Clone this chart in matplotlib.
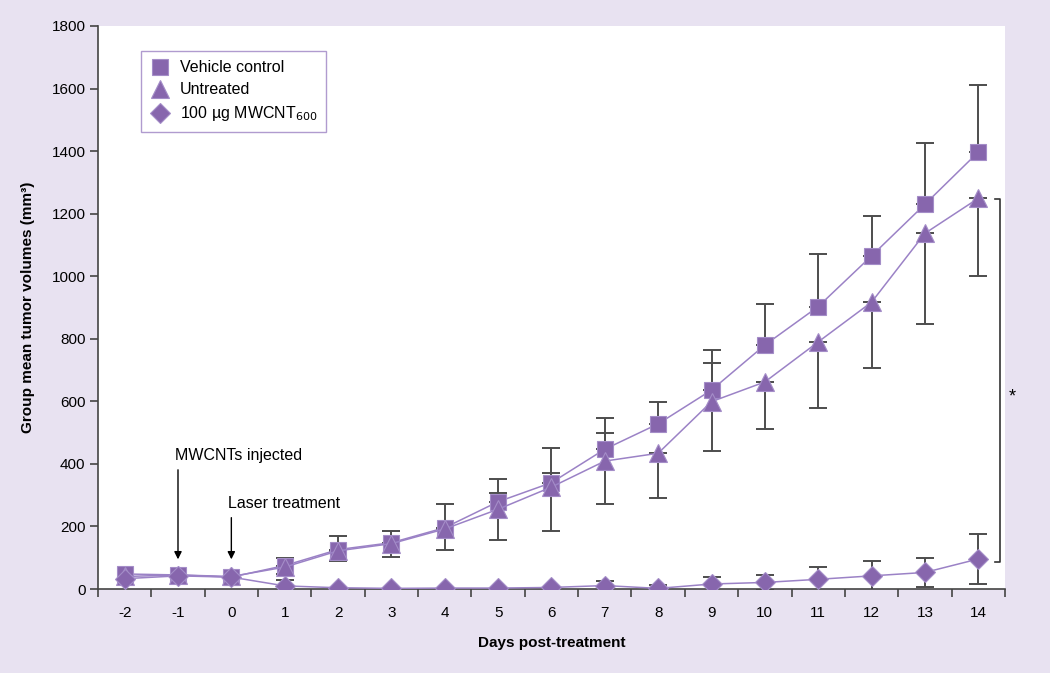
import numpy as np
import matplotlib
matplotlib.use("Agg")
import matplotlib.pyplot as plt

plt.rcParams['font.family'] = ['Liberation Sans', 'DejaVu Sans']
plt.rcParams['axes.unicode_minus'] = False

days = np.arange(-2, 15)
# group means (mm^3)
vehicle = [48, 45, 38, 75, 126, 148, 196, 279, 340, 447, 528, 636, 780, 903, 1065, 1230, 1397]
untreated = [40, 45, 40, 70, 122, 145, 192, 255, 326, 409, 434, 599, 662, 790, 917, 1137, 1249]
mwcnt = [33, 42, 38, 10, 4, 2, 3, 3, 5, 11, 2, 16, 21, 31, 42, 53, 96]

# error bar ends as drawn (None = not shown)
vehicle_upper = [None, None, None, 100, 170, 187, 272, 351, 451, 548, 599, 763, 911, 1071, 1192, 1427, 1612]
untreated_lower = [None, None, None, 48, 90, 101, 125, 157, 187, 273, 292, 441, 512, 578, 705, 848, 1002]
untreated_upper = [None, None, None, None, None, None, None, 306, 372, 498, None, 722, None, None, None, None, None]
mwcnt_err = [0, 0, 0, 20, 0, 0, 0, 0, 0, 16, 11, 22, 24, 40, 48, 46, 81]

purple = "#8766ad"
edge = "#a48dc8"
linec = "#9b82c6"
errc = "#4d4d4d"

fig = plt.figure(figsize=(10.5, 6.73), dpi=100, facecolor="#e8e2f1")
ax = fig.add_axes([0.0933, 0.1248, 0.8638, 0.8366])
ax.set_facecolor("white")


def draw_err(x, y, lo, hi):
    x = np.array(x, float)
    y = np.array(y, float)
    lo = np.array(lo, float)
    hi = np.array(hi, float)
    m = (lo > 0) | (hi > 0)
    ax.errorbar(x[m], y[m], yerr=[lo[m], hi[m]], fmt="none", ecolor=errc,
                elinewidth=1.4, capsize=6.5, capthick=1.4, zorder=2)


def bound(vals, means, sign):
    return [0 if v is None else sign * (v - mu) for v, mu in zip(vals, means)]


draw_err(days, vehicle, [0] * len(days), bound(vehicle_upper, vehicle, 1))
draw_err(days, untreated, bound(untreated_lower, untreated, -1), bound(untreated_upper, untreated, 1))
draw_err(days, mwcnt, mwcnt_err, mwcnt_err)

ax.plot(days, vehicle, color=linec, lw=1.1, marker="s", ms=11, mfc=purple, mec=edge, mew=0.8,
        label="Vehicle control", zorder=3)
ax.plot(days, untreated, color=linec, lw=1.1, marker="^", ms=13, mfc=purple, mec=edge, mew=0.8,
        label="Untreated", zorder=3)
ax.plot(days, mwcnt, color=linec, lw=1.1, marker="D", ms=10, mfc=purple, mec=edge, mew=0.8,
        label="100 µg MWCNT$_{600}$", zorder=3)

ax.set_xlim(-2.5, 14.5)
ax.set_ylim(0, 1800)
ax.set_yticks(np.arange(0, 1801, 200))
ax.set_xticks(days)
ax.set_xticks(np.arange(-2.5, 14.6, 1), minor=True)
ax.tick_params(axis="x", which="major", length=0, pad=12, labelsize=11)
ax.tick_params(axis="x", which="minor", length=6, width=1.2, color="#444444", direction="out")
ax.tick_params(axis="y", length=6, width=1.2, color="#444444", labelsize=11, pad=3)

for s in ["top", "right"]:
    ax.spines[s].set_visible(False)
for s in ["left", "bottom"]:
    ax.spines[s].set_color("#444444")
    ax.spines[s].set_linewidth(1.2)

ax.set_xlabel("Days post-treatment", fontsize=11, fontweight="bold", labelpad=12)
ax.set_ylabel("Group mean tumor volumes (mm³)", fontsize=11, fontweight="bold", labelpad=12)

# treatment annotations
ax.annotate("", xy=(-1, 86), xytext=(-1, 390),
            arrowprops=dict(arrowstyle="-|>", color="black", lw=1, mutation_scale=11))
ax.text(-1.05, 428, "MWCNTs injected", fontsize=11.5, va="center", ha="left")
ax.annotate("", xy=(0, 86), xytext=(0, 237),
            arrowprops=dict(arrowstyle="-|>", color="black", lw=1, mutation_scale=11))
ax.text(-0.06, 272, "Laser treatment", fontsize=11.5, va="center", ha="left")

# significance bracket
bx = 14.41
ax.plot([bx - 0.09, bx, bx, bx - 0.09], [1248, 1248, 86, 86], color="#333333", lw=1.2,
        clip_on=False)
ax.text(14.63, 615, "*", fontsize=13, ha="center", va="center", clip_on=False)

leg = ax.legend(loc="upper left", bbox_to_anchor=(0.047, 0.955), fontsize=11.5, frameon=True,
                fancybox=False, edgecolor="#9c82c4", handlelength=1.3, handletextpad=0.6,
                borderpad=0.55, labelspacing=0.45, markerscale=1.0, borderaxespad=0)
leg.get_frame().set_linewidth(1.0)
for h in leg.get_lines():
    h.set_linestyle("none")

fig.savefig("out.png", dpi=100, facecolor=fig.get_facecolor())
